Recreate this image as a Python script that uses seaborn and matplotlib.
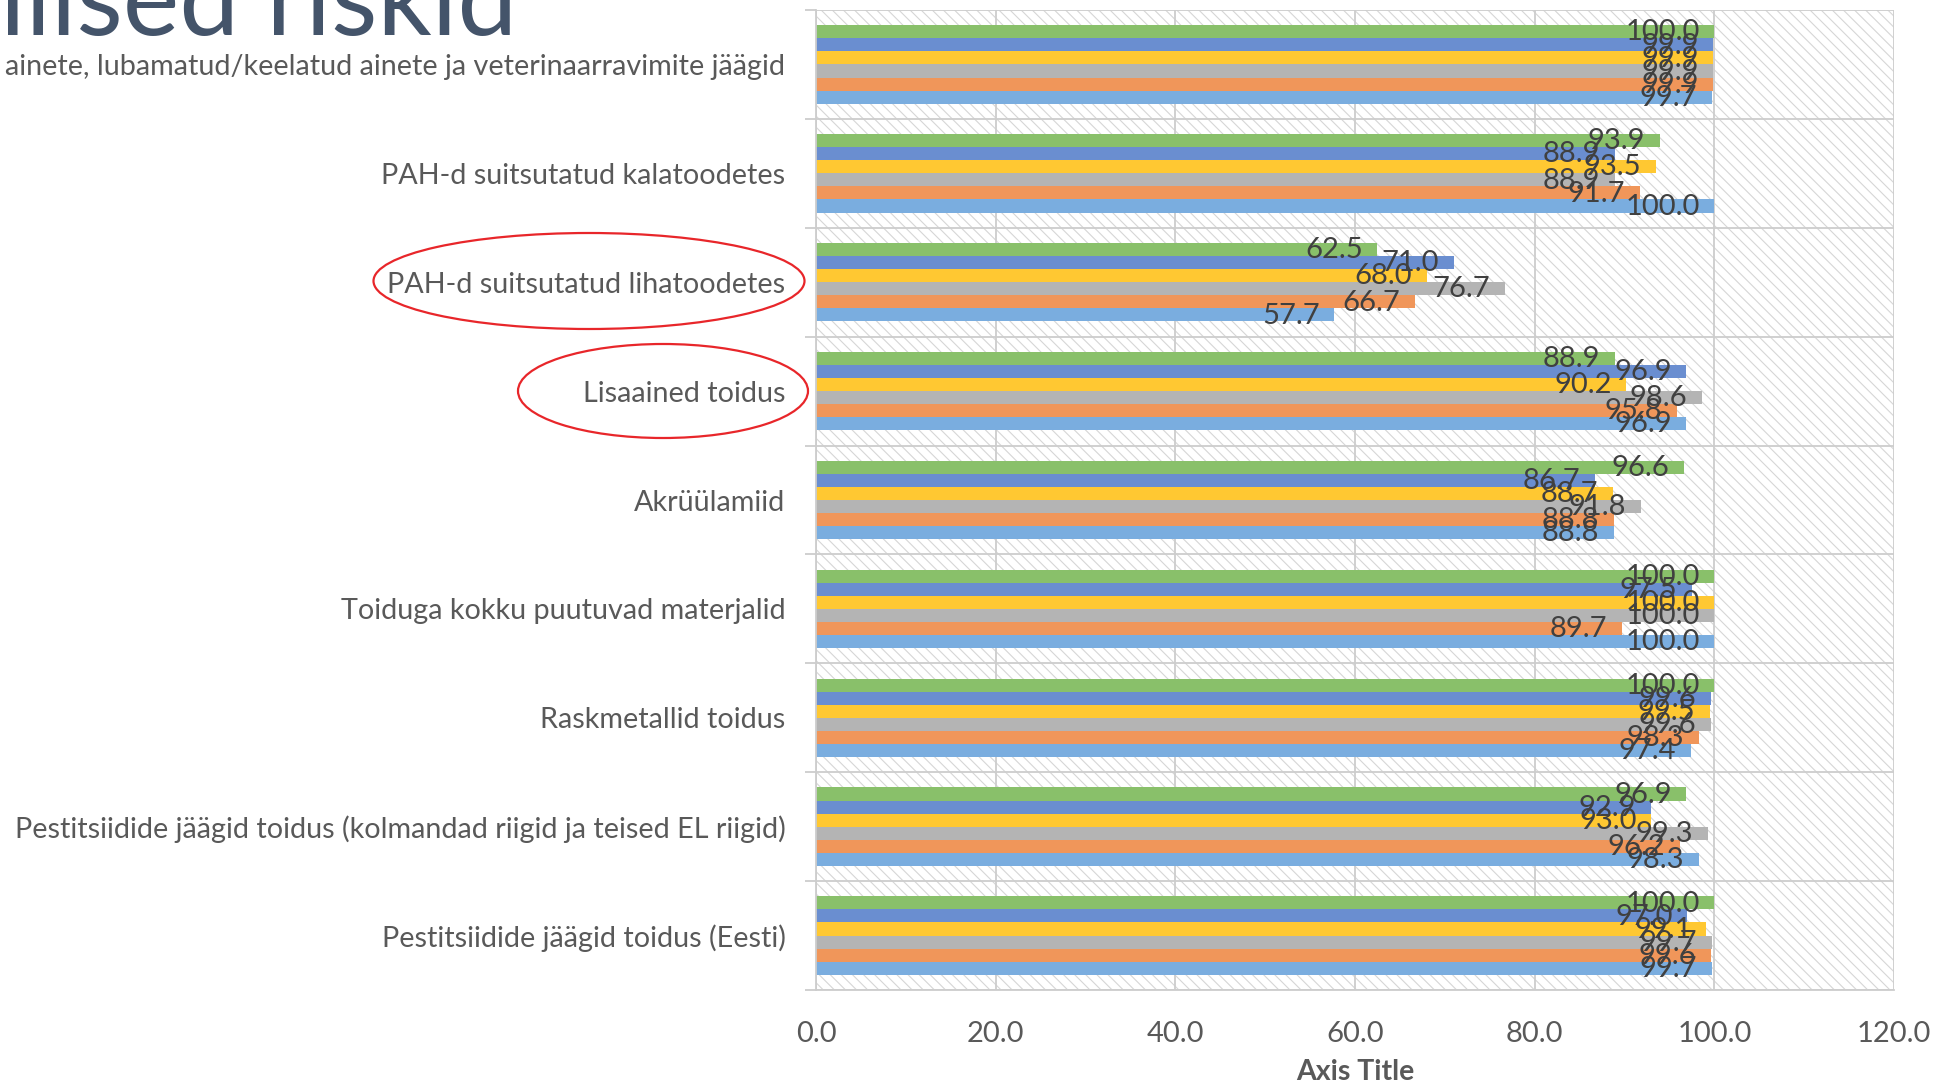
import matplotlib
matplotlib.use("Agg")
import matplotlib.pyplot as plt
from matplotlib.patches import Rectangle, Ellipse
from matplotlib.ticker import FixedLocator, StrMethodFormatter
import seaborn as sns
import pandas as pd
import numpy as np


# categories, top to bottom as drawn
categories = [
    "ainete, lubamatud/keelatud ainete ja veterinaarravimite jäägid",
    "PAH-d suitsutatud kalatoodetes",
    "PAH-d suitsutatud lihatoodetes",
    "Lisaained toidus",
    "Akrüülamiid",
    "Toiduga kokku puutuvad materjalid",
    "Raskmetallid toidus",
    "Pestitsiidide jäägid toidus (kolmandad riigid ja teised EL riigid)",
    "Pestitsiidide jäägid toidus (Eesti)",
]

# one list per series (series 1 is the bottom bar in every group)
seeria_1 = [99.7, 100.0, 57.7, 96.9, 88.8, 100.0, 97.4, 98.3, 99.7]
seeria_2 = [99.9, 91.7, 66.7, 95.8, 88.8, 89.7, 98.3, 96.2, 99.6]
seeria_3 = [99.9, 88.9, 76.7, 98.6, 91.8, 100.0, 99.6, 99.3, 99.7]
seeria_4 = [99.9, 93.5, 68.0, 90.2, 88.7, 100.0, 99.5, 93.0, 99.1]
seeria_5 = [99.9, 88.9, 71.0, 96.9, 86.7, 97.5, 99.6, 92.9, 97.0]
seeria_6 = [100.0, 93.9, 62.5, 88.9, 96.6, 100.0, 100.0, 96.9, 100.0]

series_names = ["Seeria 1", "Seeria 2", "Seeria 3", "Seeria 4", "Seeria 5", "Seeria 6"]
series_values = [seeria_1, seeria_2, seeria_3, seeria_4, seeria_5, seeria_6]
series_colors = ["#7AADDF", "#F0965A", "#B4B4B4", "#FFC832", "#6A8ED0", "#89C06A"]

x_ticks = [0, 20, 40, 60, 80, 100, 120]

# long form table for seaborn
rows = []
for name, vals in zip(series_names, series_values):
    for cat, v in zip(categories, vals):
        rows.append({"kategooria": cat, "seeria": name, "value": v})
df = pd.DataFrame(rows)

sns.set_style("white")
plt.rcParams["font.family"] = ["Lato", "DejaVu Sans"]
plt.rcParams["hatch.color"] = "#D6D6D6"
plt.rcParams["hatch.linewidth"] = 0.8

GRID = "#CDCDCD"
TEXT = "#595959"

fig = plt.figure(figsize=(19.47, 10.85), dpi=100)
ax = fig.add_axes([816 / 1947, 1 - 990 / 1085, (1894 - 816) / 1947, 980 / 1085])

# striped plot area background
ax.add_patch(Rectangle((0, 0), 1, 1, transform=ax.transAxes, facecolor="white",
                       edgecolor="#D6D6D6", hatch="\\\\\\", linewidth=0, zorder=0))

# top bar in a group is series 6, so reverse the hue order
hue_order = series_names[::-1]
palette = dict(zip(series_names, series_colors))
sns.barplot(data=df, y="kategooria", x="value", hue="seeria", order=categories,
            hue_order=hue_order, palette=palette, orient="h", width=0.72,
            saturation=1, linewidth=0, legend=False, errorbar=None, ax=ax, zorder=2)

# value labels at the inside end of every bar
for cont in ax.containers:
    for bar in cont:
        w = bar.get_width()
        yc = bar.get_y() + bar.get_height() / 2
        ax.annotate(f"{w:.1f}", xy=(w, yc), xytext=(-10.5, -0.5), textcoords="offset points",
                    ha="right", va="center", fontsize=21, color="#404040", zorder=3)

ax.set_xlim(0, 120)
ax.set_ylim(len(categories) - 0.5, -0.5)
ax.xaxis.set_major_locator(FixedLocator(x_ticks))
ax.xaxis.set_major_formatter(StrMethodFormatter("{x:.1f}"))
ax.grid(axis="x", color=GRID, linewidth=1.3)
for gl in ax.get_xgridlines():
    gl.set_zorder(1)

# category separators
bounds = np.arange(len(categories) + 1) - 0.5
ax.hlines(bounds, 0, 120, color=GRID, linewidth=1.3, zorder=1)
ax.yaxis.set_minor_locator(FixedLocator(bounds))
ax.tick_params(axis="y", which="major", length=0, pad=22, labelsize=20.7, labelcolor=TEXT)
ax.tick_params(axis="y", which="minor", length=8, width=1.3, color=GRID, left=True)
ax.tick_params(axis="x", length=0, pad=22, labelsize=21, labelcolor=TEXT)

for side in ["top", "right"]:
    ax.spines[side].set_visible(False)
for side in ["left", "bottom"]:
    ax.spines[side].set_color(GRID)
    ax.spines[side].set_linewidth(1.3)

ax.set_ylabel("")
ax.set_xlabel("Axis Title", fontsize=20.5, fontweight="bold", color=TEXT, labelpad=9)

# slide title, cut off at the top left
fig.text(0.0, 1 - 35 / 1085, "ilised riskid", fontsize=77, fontweight="normal",
         color="#44546A", ha="left", va="baseline")

# red ellipses around two category labels
for cx, cy, w, h in [(589, 281, 431, 96), (663, 391, 290, 94)]:
    fig.add_artist(Ellipse((cx / 1947, 1 - cy / 1085), w / 1947, h / 1085,
                           transform=fig.transFigure, fill=False,
                           edgecolor="#E8262A", linewidth=1.6))

fig.savefig("out.png", dpi=100)
